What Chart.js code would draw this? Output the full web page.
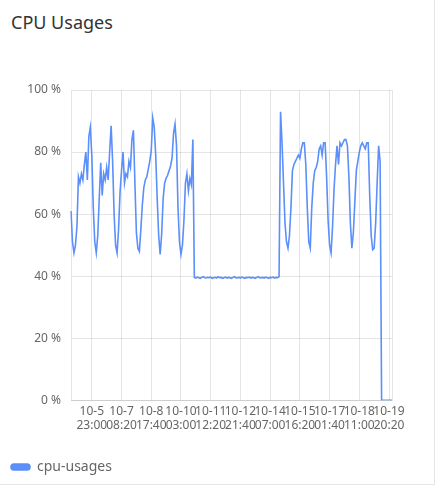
<!DOCTYPE html>
<html>
<head>
<meta charset="utf-8">
<script src="https://cdn.jsdelivr.net/npm/chart.js@4"></script>
<style>
  html, body { margin: 0; padding: 0; background: #fff; }
  body { width: 436px; height: 486px; position: relative; overflow: hidden; font-family: "Noto Sans", "Open Sans", sans-serif; }
  #card { position: absolute; left: 0; top: 0; width: 434px; height: 484px; border-right: 1px solid #e6e6e6; border-bottom: 1px solid #e6e6e6; }
  #title { position: absolute; left: 11px; top: 9px; font-size: 18px; color: #333; line-height: 26px; }
  #wrap { position: absolute; left: 0; top: 60px; width: 434px; height: 424px; }
</style>
</head>
<body>
<div id="card">
  <div id="title">CPU Usages</div>
  <div id="wrap"><canvas id="c"></canvas></div>
</div>
<script>
// ---- data ----
const seriesName = 'cpu-usages';
const startTime = { month: 10, day: 4, hour: 23, minute: 40 }; // first sample
const stepMinutes = 100;
const cpuUsages = [
  61, 51, 47.5, 50, 56, 72, 70, 73, 71, 76,
  80, 71, 85, 88, 79, 62, 51, 47.5, 53, 65,
  76.5, 66, 73, 71, 75, 71, 80, 88.5, 77, 60,
  50, 47.5, 55, 67, 74, 80, 70, 73, 72, 77,
  75, 84, 87, 70, 54, 49, 48, 55, 63, 68.5,
  71, 72, 74.5, 77, 80.5, 91, 88, 79, 65, 53,
  47, 53.5, 65, 70, 71.5, 72.5, 74, 75.5, 78, 86,
  89, 82, 62, 51, 47, 50, 58, 70, 73, 67.5,
  71.5, 69.5, 84,
  39.6, 39.4, 39.7, 39.5, 39.3, 39.6, 39.8, 39.5, 39.4, 39.6,
  39.5, 39.7, 39.3, 39.5, 39.6, 39.4, 39.8, 39.5, 39.6, 39.3,
  39.5, 39.7, 39.4, 39.6, 39.5, 39.3, 39.6, 39.8, 39.4, 39.5,
  39.6, 39.4, 39.7, 39.5, 39.3, 39.6, 39.5, 39.7, 39.4, 39.6,
  39.5, 39.3, 39.6, 39.8, 39.4, 39.5, 39.6, 39.4, 39.7, 39.5,
  39.3, 39.6, 39.5, 39.7, 39.4, 39.6, 39.5, 39.8,
  93, 83, 70, 57, 51, 49, 53, 62, 74,
  76, 77, 78, 79, 78, 81, 83, 83, 76, 62,
  51, 49, 62, 70, 74, 75, 77, 81, 82, 79,
  83, 83, 72, 58, 50, 47.5, 56, 68, 76, 82,
  76, 83, 82, 83, 84, 84, 82, 72, 57, 49,
  54, 64, 74, 77, 80, 82, 83, 82, 81, 83,
  83, 66, 53, 48.5, 49, 57, 70, 82, 77,
  0, 0, 0, 0, 0, 0, 0, 0
];
const tickLabels = [
  ['10-5', '23:00'], ['10-7', '08:20'], ['10-8', '17:40'], ['10-10', '03:00'],
  ['10-11', '12:20'], ['10-12', '21:40'], ['10-14', '07:00'], ['10-15', '16:20'],
  ['10-17', '01:40'], ['10-18', '11:00'], ['10-19', '20:20']
];
const firstTickIndex = 14;
const tickEvery = 20;
const yTicks = [0, 20, 40, 60, 80, 100];

// category labels (timestamps of each sample)
const pad = n => String(n).padStart(2, '0');
const categories = cpuUsages.map((_, i) => {
  const d = new Date(2023, startTime.month - 1, startTime.day, startTime.hour, startTime.minute + i * stepMinutes);
  return (d.getMonth() + 1) + '-' + d.getDate() + ' ' + pad(d.getHours()) + ':' + pad(d.getMinutes());
});

const blue = '#5b8ff9';
const font = { family: '"Noto Sans", "Open Sans", sans-serif', size: 12 };

new Chart(document.getElementById('c'), {
  type: 'line',
  data: {
    labels: categories,
    datasets: [{
      label: seriesName,
      data: cpuUsages,
      borderColor: blue,
      backgroundColor: blue,
      borderWidth: 1.6,
      pointRadius: 0,
      pointHoverRadius: 0,
      tension: 0,
      fill: false
    }]
  },
  options: {
    responsive: true,
    maintainAspectRatio: false,
    animation: false,
    layout: { padding: { left: 1, right: 42, top: 30, bottom: 0 } },
    plugins: {
      tooltip: { enabled: false },
      legend: {
        position: 'bottom',
        align: 'start',
        labels: {
          boxWidth: 19,
          boxHeight: 6,
          useBorderRadius: true,
          borderRadius: 3,
          padding: 10,
          color: '#666',
          font: { family: font.family, size: 14 }
        }
      }
    },
    scales: {
      x: {
        type: 'category',
        grid: { color: 'rgba(0,0,0,0.1)', drawTicks: false },
        border: { color: 'rgba(0,0,0,0.1)' },
        ticks: {
          autoSkip: false,
          maxRotation: 0,
          minRotation: 0,
          padding: 4,
          color: '#666',
          font: font,
          callback: function (v, i) {
            if (i === cpuUsages.length - 1) return '';
            const k = i - firstTickIndex;
            if (k >= 0 && k % tickEvery === 0 && tickLabels[k / tickEvery]) return tickLabels[k / tickEvery];
            return null;
          }
        },
        afterFit: function (scale) { scale.height += 13; }
      },
      y: {
        min: yTicks[0],
        max: yTicks[yTicks.length - 1],
        grid: { color: 'rgba(0,0,0,0.1)', drawTicks: false },
        border: { color: 'rgba(0,0,0,0.1)' },
        ticks: {
          stepSize: 20,
          padding: 10,
          color: '#666',
          font: font,
          callback: v => v + ' %'
        },
        afterFit: function (scale) { scale.width = 70; }
      }
    }
  }
});
</script>
</body>
</html>
